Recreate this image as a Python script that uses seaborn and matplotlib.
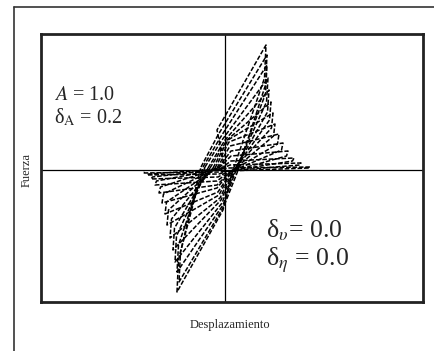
import numpy as np
import pandas as pd
import matplotlib
matplotlib.use("Agg")
import matplotlib.pyplot as plt
from matplotlib.lines import Line2D
import seaborn as sns

# Peaks of each hysteresis cycle (displacement, force), strength degrading cycle after cycle
pos_peak_x = [0.41, 0.42, 0.42, 0.43, 0.44, 0.46, 0.48, 0.50, 0.54, 0.58, 0.63, 0.69, 0.76, 0.85]
pos_peak_f = [1.25, 1.15, 1.05, 0.92, 0.80, 0.68, 0.57, 0.46, 0.36, 0.27, 0.19, 0.12, 0.07, 0.03]
neg_peak_x = [-0.48, -0.46, -0.48, -0.50, -0.52, -0.55, -0.58, -0.60, -0.63, -0.66, -0.70, -0.74, -0.78, -0.82]
neg_peak_f = [-1.22, -1.12, -1.02, -0.92, -0.80, -0.68, -0.55, -0.44, -0.33, -0.23, -0.15, -0.09, -0.05, -0.03]
# Force reached after the stiff unloading drop from each peak
pos_drop_f = [0.92, 0.85, 0.76, 0.68, 0.58, 0.50, 0.42, 0.34, 0.26, 0.20, 0.14, 0.09, 0.05, 0.02]
neg_drop_f = [-0.90, -0.82, -0.75, -0.66, -0.58, -0.49, -0.40, -0.32, -0.24, -0.17, -0.11, -0.07, -0.04, -0.02]
# Knee of each loading branch, where the steep part turns towards the peak
pos_knee_x = [-0.08, -0.07, -0.05, -0.03, 0.00, 0.02, 0.03, 0.04, 0.05, 0.06, 0.06, 0.06, 0.05, 0.04]
pos_knee_f = [0.40, 0.35, 0.32, 0.30, 0.30, 0.30, 0.30, 0.28, 0.24, 0.19, 0.14, 0.09, 0.05, 0.02]
neg_knee_x = [-0.02, -0.01, -0.02, -0.03, -0.04, -0.05, -0.06, -0.07, -0.08, -0.08, -0.08, -0.07, -0.06, -0.05]
neg_knee_f = [-0.40, -0.36, -0.35, -0.33, -0.30, -0.28, -0.25, -0.22, -0.18, -0.15, -0.11, -0.07, -0.04, -0.02]
# Where each loading branch leaves the pinched zero-force zone
pos_start_x = [0.00, -0.24, -0.22, -0.20, -0.17, -0.15, -0.12, -0.10, -0.08, -0.07, -0.06, -0.05, -0.04, -0.03]
pos_start_f = [0.00, 0.03, 0.03, 0.03, 0.02, 0.02, 0.02, 0.02, 0.02, 0.02, 0.02, 0.01, 0.01, 0.01]
neg_start_x = [0.07, 0.12, 0.10, 0.09, 0.08, 0.07, 0.06, 0.06, 0.05, 0.05, 0.04, 0.04, 0.03, 0.03]
neg_start_f = [-0.03, -0.03, -0.03, -0.03, -0.03, -0.03, -0.02, -0.02, -0.02, -0.02, -0.02, -0.01, -0.01, -0.01]

rows = []
for k in range(len(pos_peak_x)):
    pts = [
        (pos_start_x[k], pos_start_f[k]),
        (pos_knee_x[k], pos_knee_f[k]),
        (pos_peak_x[k], pos_peak_f[k]),
        (pos_peak_x[k] - 0.015, pos_drop_f[k]),
        (neg_start_x[k], neg_start_f[k]),
        (neg_knee_x[k], neg_knee_f[k]),
        (neg_peak_x[k], neg_peak_f[k]),
        (neg_peak_x[k] + 0.015, neg_drop_f[k]),
    ]
    if k + 1 < len(pos_peak_x):
        pts.append((pos_start_x[k + 1], pos_start_f[k + 1]))
    for i, (x, f) in enumerate(pts):
        rows.append({"cycle": k, "order": i, "desplazamiento": x, "fuerza": f})
df = pd.DataFrame(rows)

sns.set_style("white")
plt.rcParams["font.family"] = ["Liberation Serif", "DejaVu Serif"]
plt.rcParams["mathtext.fontset"] = "stix"

fig = plt.figure(figsize=(4.34, 3.51), dpi=100)
ax = fig.add_axes([41 / 434, 1 - 302 / 351, 382 / 434, 268 / 351])

sns.lineplot(data=df, x="desplazamiento", y="fuerza", units="cycle", estimator=None,
             sort=False, color="black", linewidth=1.1, linestyle=(0, (3, 1.2)),
             ax=ax, legend=False)

ax.axhline(0, color="black", linewidth=0.9, zorder=0)
ax.axvline(0, color="black", linewidth=0.9, zorder=0)
ax.set_xlim(-1.84, 1.98)
ax.set_ylim(-1.32, 1.36)
ax.set_xticks([])
ax.set_yticks([])
ax.set_xlabel("")
ax.set_ylabel("")
for s in ax.spines.values():
    s.set_visible(True)
    s.set_color("#222222")
    s.set_linewidth(2.0)

ax.text(0.035, 0.772, r"$A$ = 1.0", transform=ax.transAxes, fontsize=14.5, va="center")
ax.text(0.035, 0.687, r"δ$_{\mathrm{A}}$ = 0.2", transform=ax.transAxes, fontsize=14.5, va="center")
ax.text(0.59, 0.269, r"δ$_{\upsilon}$= 0.0", transform=ax.transAxes, fontsize=18.5, va="center")
ax.text(0.59, 0.155, r"δ$_{\eta}$ = 0.0", transform=ax.transAxes, fontsize=18.5, va="center")

fig.text(27 / 434, 1 - 170 / 351, "Fuerza", rotation=90, ha="center", va="center", fontsize=9)
fig.text(230 / 434, 1 - 325 / 351, "Desplazamiento", ha="center", va="center", fontsize=9)

# Outer frame: left and top edges
fig.add_artist(Line2D([14 / 434, 14 / 434], [0, 1 - 7 / 351], transform=fig.transFigure,
                      color="#333333", linewidth=1.2))
fig.add_artist(Line2D([14 / 434, 1], [1 - 7 / 351, 1 - 7 / 351], transform=fig.transFigure,
                      color="#333333", linewidth=1.2))

fig.savefig("out.png", dpi=100)
